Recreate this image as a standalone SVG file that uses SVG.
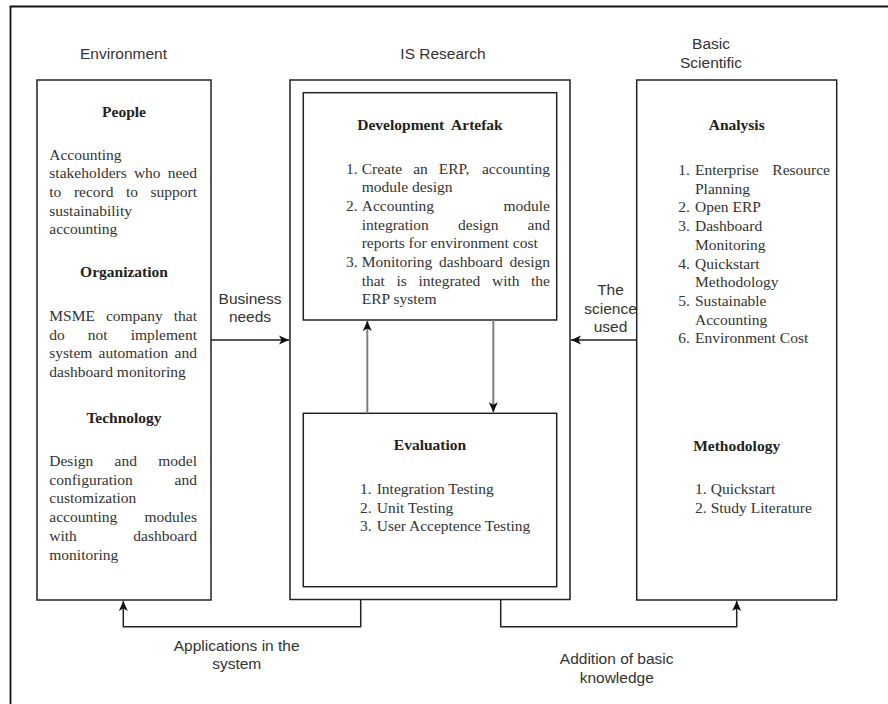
<svg xmlns="http://www.w3.org/2000/svg" width="888" height="704" viewBox="0 0 888 704">
<style>
.lbl{font-family:"Liberation Sans",Arial,sans-serif;font-size:15.5px;fill:#333}
.mid{text-anchor:middle}
.end{text-anchor:end}
.tx{font-family:"Liberation Serif","Times New Roman",serif;font-size:15.5px;fill:#333}
.hd{font-family:"Liberation Serif","Times New Roman",serif;font-size:15.5px;font-weight:bold;fill:#222;text-anchor:middle}
.box{fill:#fff;stroke:#222;stroke-width:1.5}
.frame{fill:none;stroke:#111;stroke-width:1.8}
.conn{fill:none;stroke:#222;stroke-width:1.5}
.conn2{fill:none;stroke:#808080;stroke-width:2}
</style>
<defs>
<marker id="arr" markerUnits="userSpaceOnUse" markerWidth="12" markerHeight="12" viewBox="0 0 12 12" refX="11" refY="6" orient="auto">
<path d="M1,1.5 L11,6 L1,10.5 L3.5,6 Z" fill="#111"/>
</marker>
</defs>
<rect width="888" height="704" fill="#fff"/>
<path class="frame" d="M10.5,712 V6.5 H896"/>

<g id="env-title"><text class="lbl mid" x="123.5" y="59">Environment</text></g>
<g id="is-title"><text class="lbl mid" x="443" y="59">IS Research</text></g>
<g id="bs-title"><text class="lbl mid" x="711" y="49">Basic</text><text class="lbl mid" x="711" y="68">Scientific</text></g>

<g id="environment">
<rect class="box" x="37" y="80" width="174" height="520"/>
<text class="hd" x="124" y="117">People</text>
<text class="tx" x="49.3" y="159.5">Accounting</text>
<text class="tx" x="49.3" y="178.2">stakeholders</text><text class="tx" x="133.9" y="178.2">who</text><text class="tx end" x="197" y="178.2">need</text>
<text class="tx" x="49.3" y="196.9">to</text><text class="tx" x="73.9" y="196.9">record</text><text class="tx" x="126" y="196.9">to</text><text class="tx end" x="197" y="196.9">support</text>
<text class="tx" x="49.3" y="215.6">sustainability</text>
<text class="tx" x="49.3" y="234.3">accounting</text>
<text class="hd" x="124" y="277">Organization</text>
<text class="tx" x="49.3" y="321">MSME</text><text class="tx" x="105.9" y="321">company</text><text class="tx end" x="197" y="321">that</text>
<text class="tx" x="49.3" y="339.7">do</text><text class="tx" x="87.8" y="339.7">not</text><text class="tx end" x="197" y="339.7">implement</text>
<text class="tx" x="49.3" y="358.4">system</text><text class="tx" x="98.6" y="358.4">automation</text><text class="tx end" x="197" y="358.4">and</text>
<text class="tx" x="49.3" y="377.1">dashboard monitoring</text>
<text class="hd" x="124" y="423">Technology</text>
<text class="tx" x="49.3" y="466">Design</text><text class="tx" x="114.5" y="466">and</text><text class="tx end" x="197" y="466">model</text>
<text class="tx" x="49.3" y="484.7">configuration</text><text class="tx end" x="197" y="484.7">and</text>
<text class="tx" x="49.3" y="503.4">customization</text>
<text class="tx" x="49.3" y="522.1">accounting</text><text class="tx end" x="197" y="522.1">modules</text>
<text class="tx" x="49.3" y="540.8">with</text><text class="tx end" x="197" y="540.8">dashboard</text>
<text class="tx" x="49.3" y="559.5">monitoring</text>
</g>

<g id="is-research">
<rect class="box" x="290" y="80" width="280" height="519.5"/>
</g>

<g id="development">
<rect class="box" x="303.3" y="92.7" width="253.4" height="227.3"/>
<text class="hd" x="430" y="130" style="white-space:pre">Development  Artefak</text>
<text class="tx" x="346" y="173.5">1.</text>
<text class="tx" x="361.7" y="173.5">Create</text><text class="tx" x="413.2" y="173.5">an</text><text class="tx" x="438.8" y="173.5">ERP,</text><text class="tx end" x="550" y="173.5">accounting</text>
<text class="tx" x="361.7" y="192.2">module design</text>
<text class="tx" x="346" y="210.9">2.</text>
<text class="tx" x="361.7" y="210.9">Accounting</text><text class="tx end" x="550" y="210.9">module</text>
<text class="tx" x="361.7" y="229.6">integration</text><text class="tx" x="458" y="229.6">design</text><text class="tx end" x="550" y="229.6">and</text>
<text class="tx" x="361.7" y="248.3">reports for environment cost</text>
<text class="tx" x="346" y="267">3.</text>
<text class="tx" x="361.7" y="267">Monitoring</text><text class="tx" x="439" y="267">dashboard</text><text class="tx end" x="550" y="267">design</text>
<text class="tx" x="361.7" y="285.7">that</text><text class="tx" x="396.5" y="285.7">is</text><text class="tx" x="418.4" y="285.7">integrated</text><text class="tx" x="492" y="285.7">with</text><text class="tx end" x="550" y="285.7">the</text>
<text class="tx" x="361.7" y="304.4">ERP system</text>
</g>

<g id="evaluation">
<rect class="box" x="303.3" y="413.3" width="253.4" height="173.4"/>
<text class="hd" x="430" y="450">Evaluation</text>
<text class="tx" x="360" y="494">1.</text><text class="tx" x="376.7" y="494">Integration Testing</text>
<text class="tx" x="360" y="512.7">2.</text><text class="tx" x="376.7" y="512.7">Unit Testing</text>
<text class="tx" x="360" y="531.4">3.</text><text class="tx" x="376.7" y="531.4">User Acceptence Testing</text>
</g>

<g id="basic-scientific">
<rect class="box" x="636.7" y="80" width="200" height="520"/>
<text class="hd" x="736.7" y="130">Analysis</text>
<text class="tx" x="678.3" y="175">1.</text><text class="tx" x="695" y="175">Enterprise</text><text class="tx end" x="830" y="175">Resource</text>
<text class="tx" x="695" y="193.7">Planning</text>
<text class="tx" x="678.3" y="212.4">2.</text><text class="tx" x="695" y="212.4">Open ERP</text>
<text class="tx" x="678.3" y="231.1">3.</text><text class="tx" x="695" y="231.1">Dashboard</text>
<text class="tx" x="695" y="249.8">Monitoring</text>
<text class="tx" x="678.3" y="268.5">4.</text><text class="tx" x="695" y="268.5">Quickstart</text>
<text class="tx" x="695" y="287.2">Methodology</text>
<text class="tx" x="678.3" y="305.9">5.</text><text class="tx" x="695" y="305.9">Sustainable</text>
<text class="tx" x="695" y="324.6">Accounting</text>
<text class="tx" x="678.3" y="343.3">6.</text><text class="tx" x="695" y="343.3">Environment Cost</text>
<text class="hd" x="736.7" y="451">Methodology</text>
<text class="tx" x="695" y="494">1.</text><text class="tx" x="710.7" y="494">Quickstart</text>
<text class="tx" x="695" y="512.7">2.</text><text class="tx" x="710.7" y="512.7">Study Literature</text>
</g>

<g id="connectors">
<path class="conn" d="M211,340 H289" marker-end="url(#arr)"/>
<path class="conn" d="M636.7,340 H571" marker-end="url(#arr)"/>
<path class="conn2" d="M367.3,413.3 V321" marker-end="url(#arr)"/>
<path class="conn2" d="M493.3,320 V412.3" marker-end="url(#arr)"/>
<path class="conn" d="M360.7,600 V626.7 H123.3 V601" marker-end="url(#arr)"/>
<path class="conn" d="M500.7,600 V626.7 H736.7 V601" marker-end="url(#arr)"/>
<text class="lbl mid" x="250" y="303.5">Business</text>
<text class="lbl mid" x="250" y="321.5">needs</text>
<text class="lbl mid" x="610.5" y="295">The</text>
<text class="lbl mid" x="610.5" y="313.5">science</text>
<text class="lbl mid" x="610.5" y="332">used</text>
<text class="lbl mid" x="236.7" y="650.5">Applications in the</text>
<text class="lbl mid" x="236.7" y="669">system</text>
<text class="lbl mid" x="616.7" y="664">Addition of basic</text>
<text class="lbl mid" x="616.7" y="682.5">knowledge</text>
</g>
</svg>
